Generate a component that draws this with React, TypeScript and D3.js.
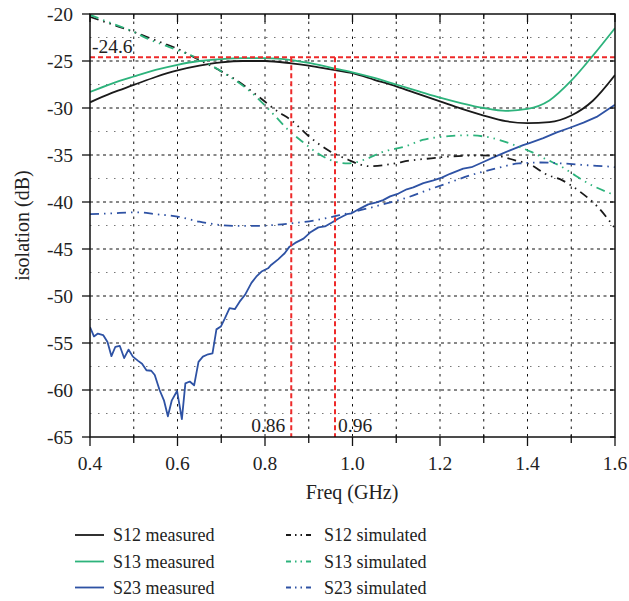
import React from 'react';
import * as d3 from 'd3';

// ---- axes ----
const xTickLabels = [0.4, 0.6, 0.8, 1.0, 1.2, 1.4, 1.6];
const xMinorTicks = [0.5, 0.7, 0.9, 1.1, 1.3, 1.5];
const yTickLabels = [-20, -25, -30, -35, -40, -45, -50, -55, -60, -65];
const yMinorGrid = [-22.5, -27.5, -32.5, -37.5, -42.5, -47.5, -52.5, -57.5, -62.5];

// ---- markers ----
const markerLevel = -24.6;
const markerFreqs = [0.86, 0.96];

// ---- S12 measured ----
const s12MeasFreq = [0.40, 0.45, 0.50, 0.55, 0.60, 0.65, 0.70, 0.75, 0.80, 0.86, 0.90, 0.95, 1.00, 1.05, 1.10, 1.15, 1.20, 1.25, 1.30, 1.35, 1.40, 1.45, 1.50, 1.55, 1.60];
const s12MeasVal = [-29.4, -28.4, -27.55, -26.7, -26.0, -25.5, -25.15, -25.0, -25.0, -25.25, -25.5, -25.9, -26.3, -27.0, -27.7, -28.5, -29.3, -30.1, -30.8, -31.4, -31.6, -31.5, -30.8, -29.2, -26.5];

// ---- S13 measured ----
const s13MeasFreq = [0.40, 0.45, 0.50, 0.55, 0.60, 0.65, 0.70, 0.75, 0.80, 0.86, 0.90, 0.95, 1.00, 1.05, 1.10, 1.15, 1.20, 1.25, 1.30, 1.35, 1.40, 1.45, 1.50, 1.55, 1.60];
const s13MeasVal = [-28.3, -27.4, -26.65, -25.95, -25.4, -25.0, -24.8, -24.7, -24.7, -24.9, -25.2, -25.7, -26.2, -26.8, -27.5, -28.2, -28.9, -29.5, -30.0, -30.3, -30.1, -29.2, -27.1, -24.4, -21.5];

// ---- S23 measured ----
const s23MeasFreq = [0.400, 0.409, 0.418, 0.430, 0.440, 0.449, 0.458, 0.468, 0.478, 0.488, 0.498, 0.510, 0.519, 0.529, 0.540, 0.548, 0.559, 0.569, 0.578, 0.587, 0.599, 0.610, 0.618, 0.628, 0.638, 0.648, 0.658, 0.670, 0.680, 0.689, 0.699, 0.708, 0.719, 0.731, 0.742, 0.754, 0.769, 0.780, 0.792, 0.807, 0.814, 0.830, 0.845, 0.856, 0.869, 0.888, 0.903, 0.922, 0.937, 0.952, 0.968, 0.987, 0.998, 1.017, 1.036, 1.055, 1.070, 1.086, 1.105, 1.124, 1.139, 1.162, 1.185, 1.204, 1.223, 1.253, 1.272, 1.299, 1.330, 1.360, 1.390, 1.406, 1.436, 1.467, 1.497, 1.528, 1.558, 1.581, 1.600];
const s23MeasVal = [-53.3, -54.3, -54.0, -54.15, -54.9, -56.4, -55.4, -55.3, -56.6, -55.7, -56.45, -56.9, -57.2, -57.9, -57.95, -58.4, -60.0, -61.1, -62.8, -61.1, -60.1, -63.1, -59.3, -59.1, -59.5, -57.0, -56.45, -56.2, -56.1, -53.55, -53.25, -52.4, -51.3, -51.4, -50.6, -49.9, -48.6, -47.95, -47.4, -47.05, -46.7, -46.1, -45.45, -44.75, -44.35, -43.9, -43.25, -42.7, -42.6, -42.2, -41.75, -41.3, -41.2, -40.7, -40.25, -40.05, -39.8, -39.4, -39.1, -38.65, -38.45, -38.0, -37.7, -37.4, -37.0, -36.45, -36.3, -35.75, -35.1, -34.5, -33.95, -33.7, -33.2, -32.6, -32.1, -31.55, -30.95, -30.25, -29.65];

// ---- S12 simulated ----
const s12SimFreq = [0.40, 0.45, 0.50, 0.55, 0.60, 0.65, 0.70, 0.74, 0.78, 0.83, 0.86, 0.90, 0.95, 0.99, 1.01, 1.04, 1.09, 1.13, 1.18, 1.21, 1.29, 1.33, 1.37, 1.41, 1.44, 1.48, 1.52, 1.56, 1.60];
const s12SimVal = [-20.3, -21.1, -21.9, -22.8, -23.7, -24.9, -26.1, -27.2, -28.6, -30.4, -31.3, -33.0, -34.65, -35.5, -35.9, -36.2, -35.95, -35.6, -35.35, -35.2, -35.05, -35.1, -35.55, -36.1, -37.0, -37.7, -38.9, -40.5, -42.8];

// ---- S13 simulated ----
const s13SimFreq = [0.40, 0.45, 0.50, 0.53, 0.58, 0.65, 0.70, 0.77, 0.82, 0.85, 0.89, 0.92, 0.96, 0.99, 1.03, 1.07, 1.12, 1.16, 1.22, 1.26, 1.31, 1.37, 1.41, 1.44, 1.48, 1.51, 1.54, 1.59, 1.60];
const s13SimVal = [-20.1, -21.0, -21.9, -22.6, -23.5, -24.8, -26.1, -28.4, -30.7, -32.2, -33.75, -34.8, -35.7, -35.9, -35.45, -34.65, -34.1, -33.4, -33.0, -32.9, -33.1, -33.95, -34.7, -35.4, -36.3, -37.2, -38.05, -39.1, -39.3];

// ---- S23 simulated ----
const s23SimFreq = [0.40, 0.45, 0.51, 0.55, 0.60, 0.65, 0.69, 0.74, 0.78, 0.82, 0.86, 0.92, 0.97, 1.02, 1.07, 1.12, 1.18, 1.22, 1.27, 1.33, 1.38, 1.43, 1.48, 1.54, 1.59, 1.60];
const s23SimVal = [-41.3, -41.2, -41.1, -41.3, -41.55, -42.1, -42.4, -42.55, -42.55, -42.45, -42.27, -41.9, -41.4, -40.85, -40.25, -39.6, -38.6, -37.95, -37.15, -36.4, -35.9, -35.8, -35.9, -36.1, -36.25, -36.3];

const BLACK = '#1a1a1a';
const GREEN = '#2db37c';
const BLUE = '#2e52a4';
const RED = '#ee2a2a';
const SIM_DASH = '9,5,1.5,5,1.5,5';
const FONT = "'Liberation Serif', 'DejaVu Serif', 'Times New Roman', serif";

type Series = { name: string; freq: number[]; val: number[]; color: string; sim: boolean; smooth: boolean };

const series: Series[] = [
  { name: 'S12 measured', freq: s12MeasFreq, val: s12MeasVal, color: BLACK, sim: false, smooth: true },
  { name: 'S13 measured', freq: s13MeasFreq, val: s13MeasVal, color: GREEN, sim: false, smooth: true },
  { name: 'S23 measured', freq: s23MeasFreq, val: s23MeasVal, color: BLUE, sim: false, smooth: false },
  { name: 'S12 simulated', freq: s12SimFreq, val: s12SimVal, color: BLACK, sim: true, smooth: true },
  { name: 'S13 simulated', freq: s13SimFreq, val: s13SimVal, color: GREEN, sim: true, smooth: true },
  { name: 'S23 simulated', freq: s23SimFreq, val: s23SimVal, color: BLUE, sim: true, smooth: true },
];

export default function App() {
  const L = 90, R = 615, T = 14, B = 437;
  const x = d3.scaleLinear().domain([0.4, 1.6]).range([L, R]);
  const y = d3.scaleLinear().domain([-20, -65]).range([T, B]);

  const lineFor = (s: Series) => {
    const gen = d3.line<number>()
      .x((_, i) => x(s.freq[i]))
      .y((v) => y(v))
      .curve(s.smooth ? d3.curveMonotoneX : d3.curveLinear);
    return gen(s.val) || '';
  };

  const legendRows = [535, 561.5, 587.5];
  const txt = { fontFamily: FONT };

  return (
    <svg width={629} height={601} style={{ position: 'absolute', left: 0, top: 0, background: '#fff', fontFamily: FONT }}>
      <defs>
        <clipPath id="plotClip">
          <rect x={L} y={T} width={R - L} height={B - T} />
        </clipPath>
      </defs>
      <rect x={0} y={0} width={629} height={601} fill="#fff" />

      {/* grid */}
      {[...xMinorTicks, 0.6, 0.8, 1.0, 1.2, 1.4].map((f) => (
        <line key={'vg' + f} x1={x(f)} x2={x(f)} y1={T} y2={B} stroke="#111" strokeWidth={1} strokeDasharray="2.5,5" />
      ))}
      {yTickLabels.filter((v) => v !== -20 && v !== -65).map((v) => (
        <line key={'hg' + v} x1={L} x2={R} y1={y(v)} y2={y(v)} stroke="#111" strokeWidth={1} strokeDasharray="3,3.5" />
      ))}
      {yMinorGrid.map((v) => (
        <line key={'hm' + v} x1={L} x2={R} y1={y(v)} y2={y(v)} stroke="#777" strokeWidth={1} strokeDasharray="1.5,6.5" />
      ))}

      {/* series */}
      <g clipPath="url(#plotClip)">
        {series.map((s) => (
          <path key={s.name} d={lineFor(s)} fill="none" stroke={s.color}
            strokeWidth={1.8} strokeDasharray={s.sim ? SIM_DASH : undefined}
            strokeLinejoin="round" />
        ))}
        <line x1={L} x2={R} y1={y(markerLevel)} y2={y(markerLevel)} stroke={RED} strokeWidth={2} strokeDasharray="5,3" />
        {markerFreqs.map((f) => (
          <line key={'mf' + f} x1={x(f)} x2={x(f)} y1={y(markerLevel)} y2={B} stroke={RED} strokeWidth={2} strokeDasharray="5,3" />
        ))}
      </g>

      {/* frame */}
      <rect x={L} y={T} width={R - L} height={B - T} fill="none" stroke="#111" strokeWidth={1.5} />

      {/* ticks */}
      {yTickLabels.map((v) => (
        <g key={'yt' + v}>
          <line x1={L - 8} x2={L} y1={y(v)} y2={y(v)} stroke="#111" strokeWidth={1.3} />
          <line x1={R - 5} x2={R} y1={y(v)} y2={y(v)} stroke="#111" strokeWidth={1.3} />
          <text x={73} y={y(v)} dominantBaseline="central" textAnchor="end" fontSize={19.5} fill="#222" style={txt}>{v}</text>
        </g>
      ))}
      {xTickLabels.map((f) => (
        <g key={'xt' + f}>
          <line x1={x(f)} x2={x(f)} y1={B} y2={B + 9} stroke="#111" strokeWidth={1.3} />
          <line x1={x(f)} x2={x(f)} y1={T} y2={T + 8} stroke="#111" strokeWidth={1.3} />
          <text x={x(f)} y={470} textAnchor="middle" fontSize={19.5} fill="#222" style={txt}>{f.toFixed(1)}</text>
        </g>
      ))}
      {xMinorTicks.map((f) => (
        <g key={'xm' + f}>
          <line x1={x(f)} x2={x(f)} y1={B - 2} y2={B + 6} stroke="#111" strokeWidth={1.3} />
          <line x1={x(f)} x2={x(f)} y1={T} y2={T + 5} stroke="#111" strokeWidth={1.3} />
        </g>
      ))}

      {/* marker labels */}
      <rect x={92} y={39} width={40} height={16} fill="#fff" />
      <text x={92} y={53} fontSize={19.5} fill="#222" style={txt}>{markerLevel.toFixed(1)}</text>
      <text x={x(markerFreqs[0]) - 6} y={432} textAnchor="end" fontSize={19.5} fill="#222" style={txt}>{markerFreqs[0].toFixed(2)}</text>
      <text x={x(markerFreqs[1]) + 3} y={432} textAnchor="start" fontSize={19.5} fill="#222" style={txt}>{markerFreqs[1].toFixed(2)}</text>

      {/* axis titles */}
      <text x={352} y={499} textAnchor="middle" fontSize={20} fill="#222" style={txt}>Freq (GHz)</text>
      <text transform={`translate(29, ${(T + B) / 2}) rotate(-90)`} textAnchor="middle" fontSize={20} fill="#222" style={txt}>isolation (dB)</text>

      {/* legend */}
      {series.map((s, i) => {
        const col = s.sim ? 1 : 0;
        const row = i % 3;
        const lx = col ? 286 : 75;
        const ly = legendRows[row];
        return (
          <g key={'lg' + s.name}>
            <line x1={lx} x2={lx + 29} y1={ly} y2={ly} stroke={s.color} strokeWidth={1.8}
              strokeDasharray={s.sim ? '5,4,1.5,4,1.5,4' : undefined} />
            <text x={lx + 38} y={ly + 6} fontSize={18} fill="#222" style={txt}>{s.name}</text>
          </g>
        );
      })}
    </svg>
  );
}
